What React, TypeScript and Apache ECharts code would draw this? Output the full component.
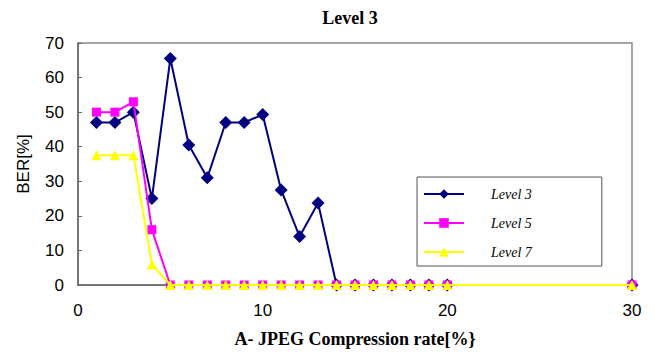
import React, { useEffect, useRef } from "react";
import * as echarts from "echarts";

const xValues = [1, 2, 3, 4, 5, 6, 7, 8, 9, 10, 11, 12, 13, 14, 15, 16, 17, 18, 19, 20, 30];
const level3 = [47, 47, 50, 25, 65.5, 40.5, 31, 47, 47, 49.3, 27.5, 14, 23.7, 0, 0, 0, 0, 0, 0, 0, 0];
const level5 = [50, 50, 53, 16, 0, 0, 0, 0, 0, 0, 0, 0, 0, 0, 0, 0, 0, 0, 0, 0, 0];
const level7 = [37.5, 37.5, 37.5, 6, 0, 0, 0, 0, 0, 0, 0, 0, 0, 0, 0, 0, 0, 0, 0, 0, 0];
const seriesNames = ["Level 3", "Level 5", "Level 7"];

const pairs = (ys: number[]) => xValues.map((x, i) => [x, ys[i]]);

export default function App() {
  const ref = useRef<HTMLDivElement>(null);
  useEffect(() => {
    if (!ref.current) return;
    const chart = echarts.init(ref.current, null, { renderer: "svg" });
    chart.setOption({
      animation: false,
      backgroundColor: "#ffffff",
      title: {
        text: "Level 3",
        left: 345,
        top: 4,
        textAlign: "center",
        textStyle: { fontFamily: "Liberation Serif", fontWeight: "bold", fontSize: 18, color: "#000" },
      },
      grid: {
        left: 78,
        right: 23,
        top: 43,
        bottom: 73,
        show: true,
        borderColor: "#888",
        borderWidth: 1.5,
        backgroundColor: "#fff",
      },
      legend: {
        orient: "vertical",
        left: 417,
        top: 177,
        width: 183,
        data: seriesNames,
        backgroundColor: "#fff",
        borderColor: "#555",
        borderWidth: 1,
        padding: [10, 70, 7, 6],
        itemWidth: 40,
        itemHeight: 12,
        itemGap: 15,
        textStyle: {
          fontFamily: "Liberation Serif",
          fontStyle: "italic",
          fontSize: 14,
          color: "#000",
          padding: [0, 0, 0, 22],
        },
      },
      xAxis: {
        type: "value",
        min: 0,
        max: 30,
        interval: 10,
        name: "A- JPEG Compression rate[%}",
        nameLocation: "middle",
        nameGap: 45,
        nameTextStyle: { fontFamily: "Liberation Serif", fontWeight: "bold", fontSize: 18, color: "#000" },
        axisLine: { show: true, lineStyle: { color: "#666", width: 1.5 } },
        axisTick: { show: false },
        splitLine: { show: false },
        axisLabel: { fontFamily: "Liberation Sans", fontSize: 17, color: "#000", margin: 17 },
      },
      yAxis: {
        type: "value",
        min: 0,
        max: 70,
        interval: 10,
        name: "BER[%]",
        nameLocation: "middle",
        nameGap: 46,
        nameTextStyle: { fontFamily: "Liberation Sans", fontSize: 17, color: "#000" },
        axisLine: { show: true, lineStyle: { color: "#666", width: 1.5 } },
        axisTick: { show: true, inside: true, length: 4, lineStyle: { color: "#666" } },
        splitLine: { show: false },
        axisLabel: { fontFamily: "Liberation Sans", fontSize: 17, color: "#000", margin: 14 },
      },
      series: [
        {
          name: seriesNames[0],
          type: "line",
          data: pairs(level3),
          symbol: "diamond",
          symbolSize: 13,
          color: "#000080",
          lineStyle: { width: 2, color: "#000080" },
          itemStyle: { color: "#000080" },
          z: 2,
        },
        {
          name: seriesNames[1],
          type: "line",
          data: pairs(level5),
          symbol: "rect",
          symbolSize: 9,
          color: "#ff00ff",
          lineStyle: { width: 2, color: "#ff00ff" },
          itemStyle: { color: "#ff00ff" },
          z: 3,
        },
        {
          name: seriesNames[2],
          type: "line",
          data: pairs(level7),
          symbol: "triangle",
          symbolSize: 10,
          color: "#ffff00",
          lineStyle: { width: 2, color: "#ffff00" },
          itemStyle: { color: "#ffff00" },
          z: 4,
        },
      ],
    });
    return () => chart.dispose();
  }, []);
  return <div ref={ref} style={{ width: 655, height: 358, margin: -8 }} />;
}
